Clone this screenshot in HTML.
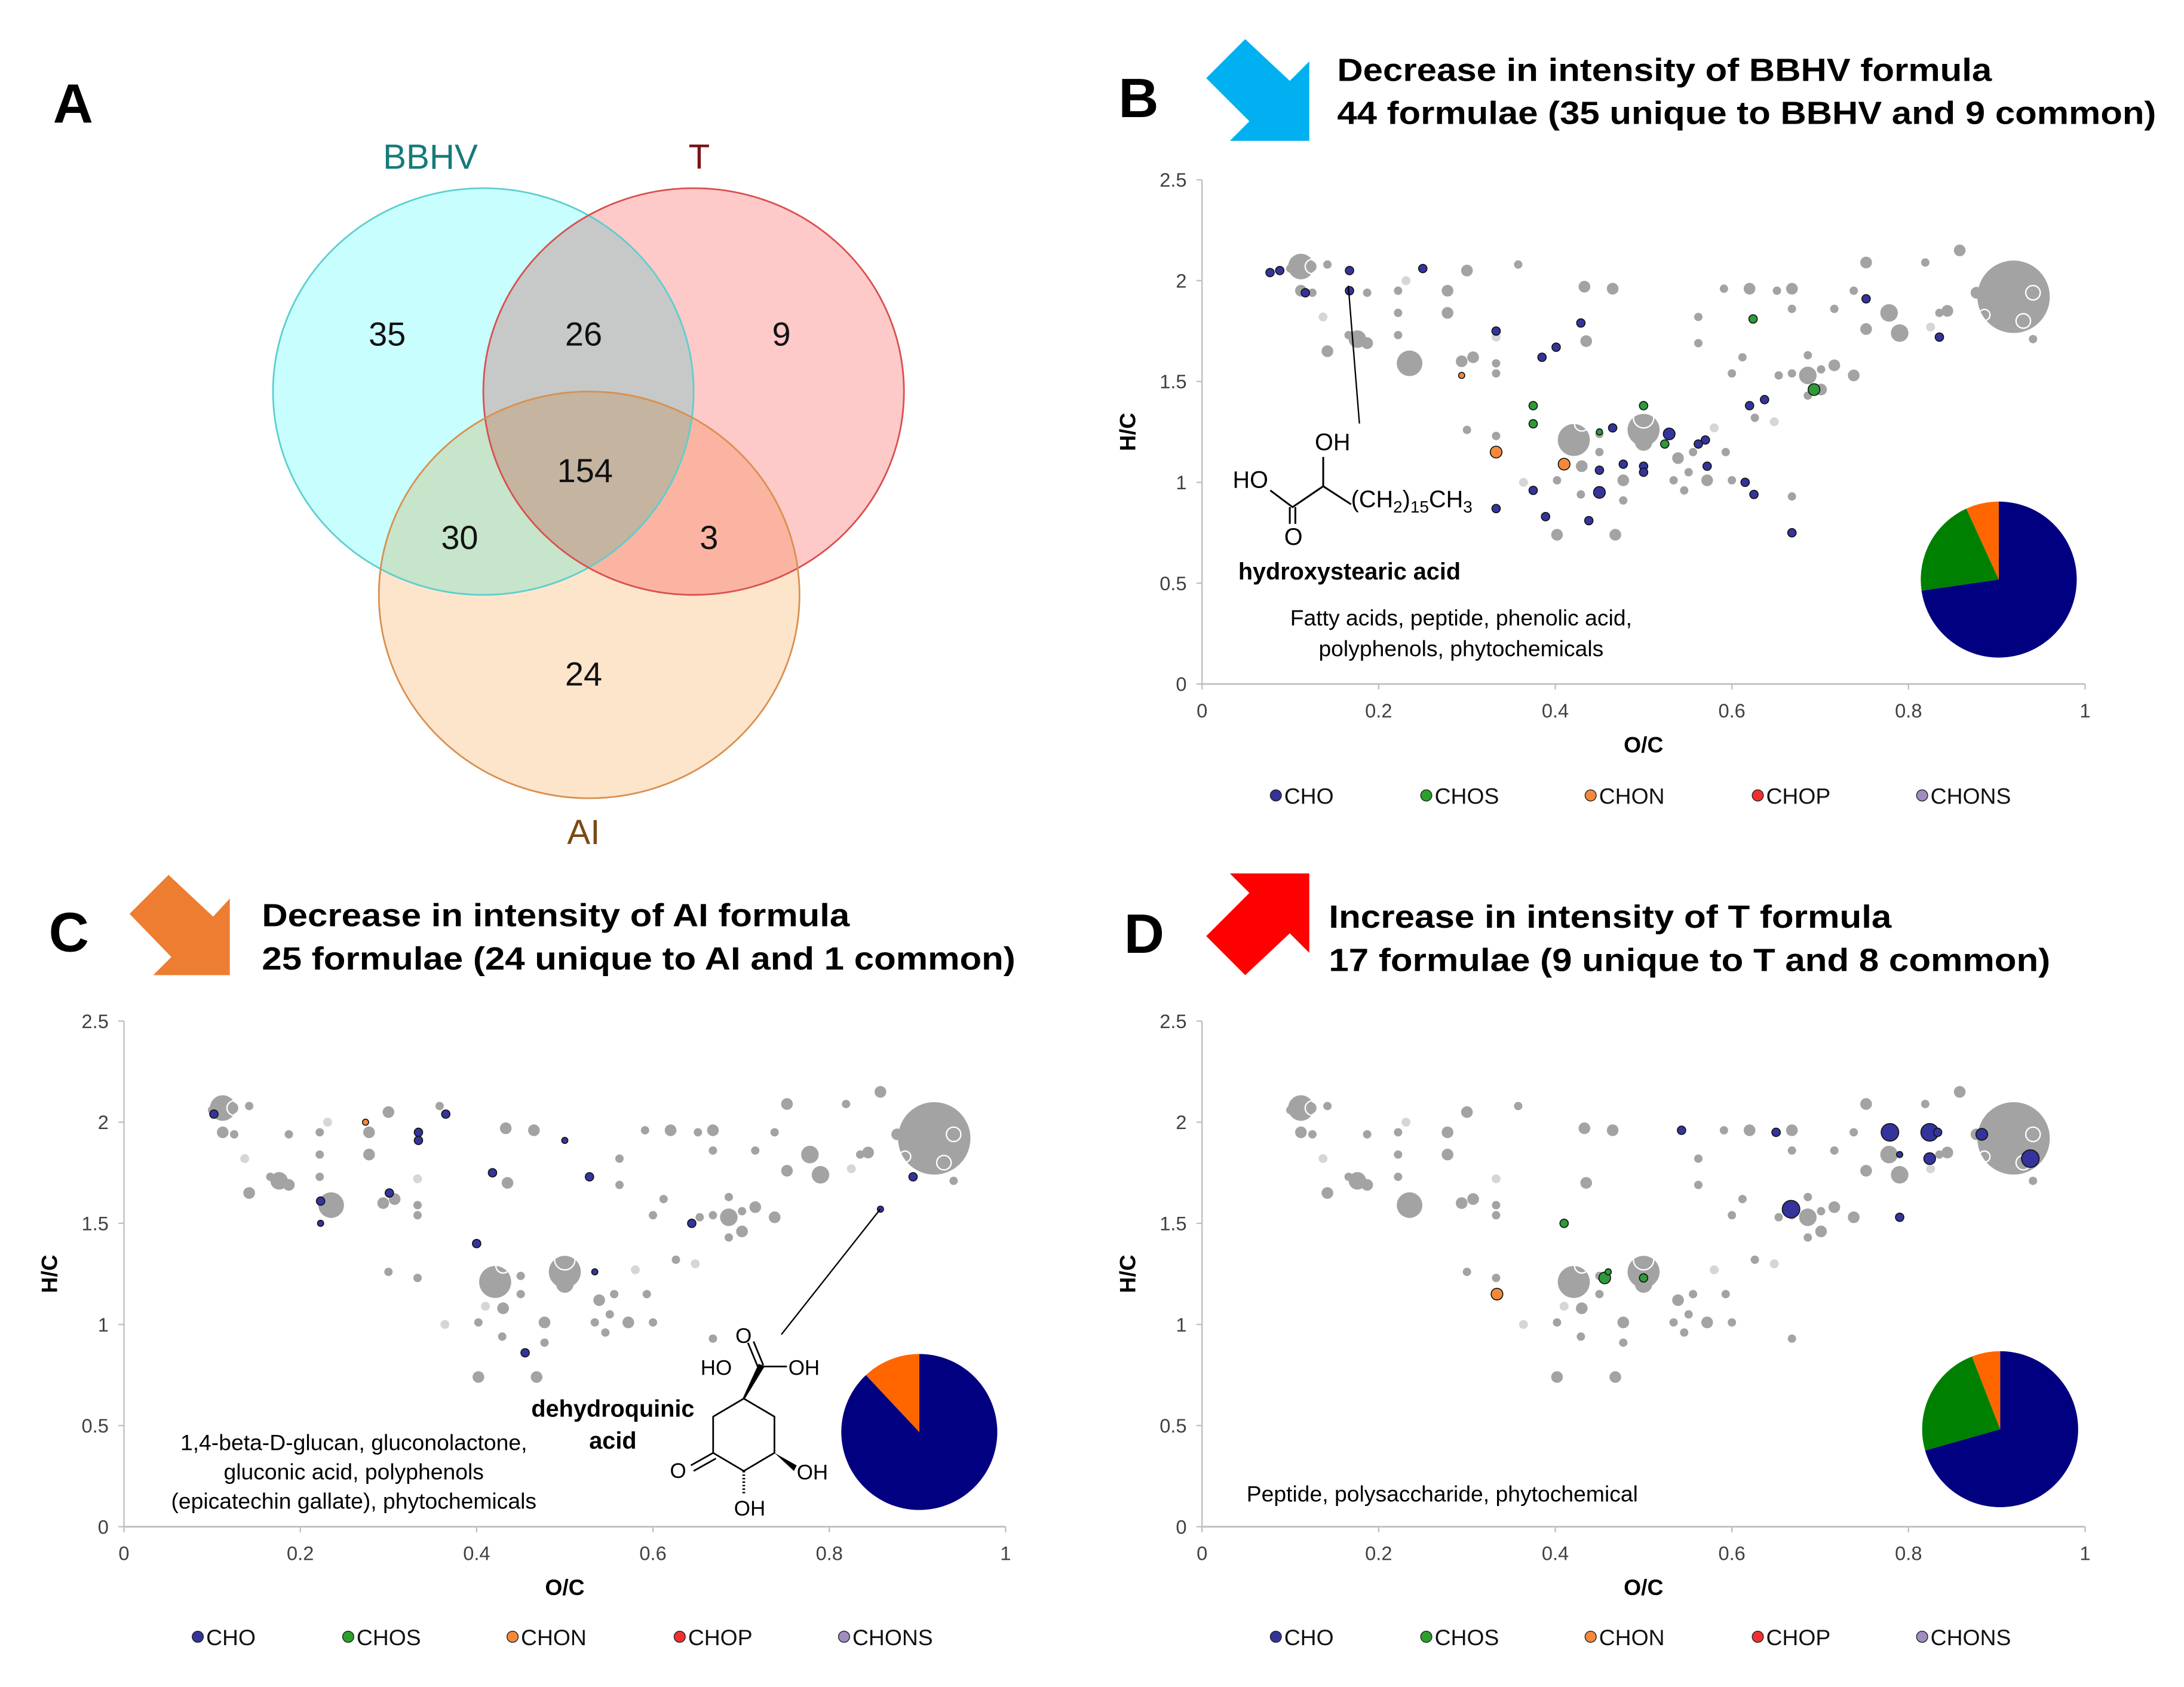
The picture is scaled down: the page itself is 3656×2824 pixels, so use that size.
<!DOCTYPE html>
<html><head><meta charset="utf-8"><style>
html,body{margin:0;padding:0;background:#fff}
svg{display:block}
text{font-family:"Liberation Sans",Arial,sans-serif}
</style></head><body>
<svg id="fig" xmlns="http://www.w3.org/2000/svg" width="3656" height="2824" viewBox="0 0 1568 1211">
<rect width="1568" height="1211" fill="#fff"/>
<!-- Panel letters -->
<text x="38" y="88" font-size="40" font-weight="bold">A</text>
<text x="803" y="84" font-size="40" font-weight="bold">B</text>
<text x="35" y="683" font-size="40" font-weight="bold">C</text>
<text x="807" y="684" font-size="40" font-weight="bold">D</text>

<!-- Venn -->
<g>
<g style="isolation:isolate">
<ellipse cx="347" cy="281" rx="151" ry="146" fill="#c8fffe"/>
<ellipse cx="498" cy="281" rx="151" ry="146" fill="#fdc9c9" style="mix-blend-mode:multiply"/>
<ellipse cx="423" cy="427" rx="151" ry="146" fill="#fde5cc" style="mix-blend-mode:multiply"/>
</g>
<ellipse cx="347" cy="281" rx="151" ry="146" fill="none" stroke="#5ccfcf" stroke-width="1.2"/>
<ellipse cx="498" cy="281" rx="151" ry="146" fill="none" stroke="#d9504f" stroke-width="1.2"/>
<ellipse cx="423" cy="427" rx="151" ry="146" fill="none" stroke="#d9904f" stroke-width="1.2"/>
<text x="309" y="121" font-size="25" fill="#167a7a" text-anchor="middle">BBHV</text>
<text x="502" y="121" font-size="25" fill="#7a1414" text-anchor="middle">T</text>
<text x="419" y="606" font-size="25" fill="#7a4a14" text-anchor="middle">AI</text>
<g font-size="24" text-anchor="middle" fill="#111">
<text x="278" y="248">35</text>
<text x="419" y="248">26</text>
<text x="561" y="248">9</text>
<text x="420" y="346">154</text>
<text x="330" y="394">30</text>
<text x="509" y="394">3</text>
<text x="419" y="492">24</text>
</g>
</g>

<!-- Arrows -->
<polygon fill="#00b0f0" points="894,28 926,58 940,44 940,101 883,101 897,87 866,56"/>
<polygon fill="#ed7d31" points="121,628 153,658 165,645 165,700 110,700 123,687 93,656"/>
<polygon fill="#ff0000" points="894,700 926,670 940,684 940,627 883,627 897,641 866,672"/>

<!-- Titles -->
<g font-weight="bold" font-size="23" fill="#000">
<text x="960" y="58" textLength="470" lengthAdjust="spacingAndGlyphs">Decrease in intensity of BBHV formula</text>
<text x="960" y="89" textLength="588" lengthAdjust="spacingAndGlyphs">44 formulae (35 unique to BBHV and 9 common)</text>
<text x="188" y="665" textLength="422" lengthAdjust="spacingAndGlyphs">Decrease in intensity of AI formula</text>
<text x="188" y="696" textLength="541" lengthAdjust="spacingAndGlyphs">25 formulae (24 unique to AI and 1 common)</text>
<text x="954" y="666" textLength="404" lengthAdjust="spacingAndGlyphs">Increase in intensity of T formula</text>
<text x="954" y="697" textLength="518" lengthAdjust="spacingAndGlyphs">17 formulae (9 unique to T and 8 common)</text>
</g>

<g id="plots"></g>

<!-- Annotations B -->
<g fill="#000">
<line x1="968" y1="205" x2="976" y2="304" stroke="#000" stroke-width="1"/>
<text x="944" y="323" font-size="17">OH</text>
<text x="885" y="350" font-size="17">HO</text>
<text x="970" y="364" font-size="17">(CH<tspan font-size="12" dy="4">2</tspan><tspan dy="-4">)</tspan><tspan font-size="12" dy="4">15</tspan><tspan dy="-4">CH</tspan><tspan font-size="12" dy="4">3</tspan></text>
<polyline points="912,352 928,364 950,349 970,362" fill="none" stroke="#000" stroke-width="1.3"/>
<line x1="950" y1="349" x2="950" y2="328" stroke="#000" stroke-width="1.3"/>
<line x1="926" y1="364" x2="926" y2="376" stroke="#000" stroke-width="1.3"/>
<line x1="930" y1="364" x2="930" y2="376" stroke="#000" stroke-width="1.3"/>
<text x="922" y="391" font-size="17">O</text>
<text x="889" y="416" font-size="17" font-weight="bold">hydroxystearic acid</text>
<text x="1049" y="449" font-size="16" text-anchor="middle">Fatty acids, peptide, phenolic acid,</text>
<text x="1049" y="471" font-size="16" text-anchor="middle">polyphenols, phytochemicals</text>
</g>

<!-- Annotations C -->
<g fill="#000">
<line x1="632" y1="868" x2="561" y2="958" stroke="#000" stroke-width="1"/>
<text x="254" y="1041" font-size="16" text-anchor="middle">1,4-beta-D-glucan, gluconolactone,</text>
<text x="254" y="1062" font-size="16" text-anchor="middle">gluconic acid, polyphenols</text>
<text x="254" y="1083" font-size="16" text-anchor="middle">(epicatechin gallate), phytochemicals</text>
<text x="440" y="1017" font-size="17" font-weight="bold" text-anchor="middle">dehydroquinic</text>
<text x="440" y="1040" font-size="17" font-weight="bold" text-anchor="middle">acid</text>
<polygon points="534,1004 556,1017 556,1043 534,1056 512,1043 512,1017" fill="none" stroke="#000" stroke-width="1.2"/>
<polygon points="534,1004 545,980 548,981" fill="#000" stroke="#000" stroke-width="1.5"/>
<line x1="544" y1="981" x2="537" y2="964" stroke="#000" stroke-width="1.2"/>
<line x1="548" y1="980" x2="541" y2="963" stroke="#000" stroke-width="1.2"/>
<line x1="546" y1="981" x2="565" y2="981" stroke="#000" stroke-width="1.2"/>
<text x="528" y="964" font-size="15">O</text>
<text x="566" y="987" font-size="15">OH</text>
<text x="503" y="987" font-size="15">HO</text>
<line x1="512" y1="1043" x2="496" y2="1052" stroke="#000" stroke-width="1.2"/>
<line x1="514" y1="1047" x2="498" y2="1056" stroke="#000" stroke-width="1.2"/>
<text x="481" y="1061" font-size="15">O</text>
<polygon points="556,1043 572,1052 570,1056" fill="#000"/>
<text x="572" y="1062" font-size="15">OH</text>
<line x1="534" y1="1056" x2="534" y2="1072" stroke="#000" stroke-width="2" stroke-dasharray="1,1.5"/>
<text x="527" y="1088" font-size="15">OH</text>
</g>

<text x="895" y="1078" font-size="16">Peptide, polysaccharide, phytochemical</text>
</svg>
<script>
// ---- shared background formula data (O/C, H/C, relative intensity) ----
const bgOC = [0.112,0.123,0.10,0.142,0.112,0.125,0.142,0.166,0.176,0.187,0.187,0.222,0.222,0.222,0.278,0.278,0.30,0.358,0.294,0.307,0.333,0.333,0.433,0.465,0.435,0.30,0.333,0.421,0.50,0.45,0.45,0.43,0.402,0.429,0.402,0.468,0.477,0.477,0.534,0.546,0.539,0.556,0.551,0.572,0.593,0.60,0.668,0.591,0.62,0.651,0.668,0.668,0.562,0.562,0.612,0.60,0.626,0.653,0.668,0.686,0.686,0.701,0.716,0.701,0.686,0.716,0.738,0.738,0.752,0.752,0.778,0.79,0.819,0.835,0.844,0.858,0.877,0.919,0.941,0.235,0.50];
const bgHC = [2.07,2.07,2.06,2.08,1.95,1.94,1.65,1.73,1.71,1.69,1.94,1.95,1.84,1.73,1.95,1.84,2.05,2.08,1.60,1.62,1.59,1.54,1.97,1.96,1.70,1.26,1.23,1.21,1.26,1.24,1.15,1.08,1.01,0.94,0.74,0.74,1.01,0.91,1.01,0.96,1.12,1.15,1.05,1.01,1.15,1.01,0.93,1.96,1.96,1.95,1.96,1.86,1.82,1.69,1.62,1.54,1.32,1.53,1.54,1.53,1.63,1.56,1.58,1.46,1.43,1.86,1.53,1.95,2.09,1.76,1.84,1.74,2.09,1.84,1.85,2.15,1.94,1.92,1.71,1.59,1.20];
const bgSize = [4,2,1,1,2,1,2,1,3,2,1,1,1,1,2,2,2,1,2,2,1,1,2,2,2,1,1,5,5,1,1,2,1,1,2,2,2,1,1,1,2,1,1,2,1,1,1,1,2,1,2,1,1,1,1,1,1,1,1,3,1,1,2,2,1,1,2,1,2,2,3,3,1,1,2,2,2,6,1,4,3];
const lightOC = [0.137,0.231,0.333,0.364,0.648,0.58,0.825,0.41];
const lightHC = [1.82,2.00,1.72,1.00,1.30,1.27,1.77,1.09];
const ringOC = [0.43,0.50,0.50,0.941,0.93,0.886,0.125,0.534];
const ringHC = [1.29,1.32,0.94,1.94,1.80,1.83,2.07,0.88];
const ringSize = [2,3,1,2,2,1,2,1];

// ---- panel B colored formulae ----
const bChoOC = [0.077,0.088,0.167,0.167,0.117,0.25,0.333,0.429,0.401,0.385,0.752,0.835,0.62,0.637,0.465,0.529,0.57,0.562,0.572,0.477,0.5,0.5,0.45,0.45,0.375,0.333,0.389,0.438,0.615,0.625,0.668];
const bChoHC = [2.04,2.05,2.05,1.95,1.94,2.06,1.75,1.79,1.67,1.62,1.91,1.72,1.38,1.41,1.27,1.24,1.21,1.19,1.08,1.09,1.08,1.05,1.06,0.95,0.96,0.87,0.83,0.81,1.00,0.94,0.75];
const bChoSize = [1,1,1,1,1,1,1,1,1,1,1,1,1,1,1,2,1,1,1,1,1,1,1,2,1,1,1,1,1,1,1];
const bChosOC = [0.624,0.693,0.375,0.375,0.45,0.5,0.524];
const bChosHC = [1.81,1.46,1.38,1.29,1.25,1.38,1.19];
const bChosSize = [1,2,1,1,0,1,1];
const bChonOC = [0.294,0.333,0.41];
const bChonHC = [1.53,1.15,1.09];
const bChonSize = [0,2,2];
const bPie = [32,9,3]; // CHO, CHOS, CHON

// ---- panel C ----
const cChoOC = [0.102,0.365,0.334,0.334,0.5,0.418,0.528,0.301,0.223,0.223,0.4,0.534,0.455,0.644,0.895,0.858];
const cChoHC = [2.04,2.04,1.95,1.91,1.91,1.75,1.73,1.65,1.61,1.50,1.40,1.26,0.86,1.50,1.73,1.57];
const cChoSize = [1,1,1,1,0,1,1,1,1,0,1,0,1,1,1,0];
const cChonOC = [0.274];
const cChonHC = [2.00];
const cChonSize = [0];
const cPie = [22,0,3];

// ---- panel D ----
const dChoOC = [0.543,0.65,0.779,0.824,0.833,0.883,0.79,0.824,0.938,0.667,0.79];
const dChoHC = [1.96,1.95,1.95,1.95,1.95,1.94,1.84,1.82,1.82,1.57,1.53];
const dChoSize = [1,1,3,3,1,2,0,2,3,3,1];
const dChosOC = [0.41,0.456,0.46,0.5];
const dChosHC = [1.50,1.23,1.26,1.23];
const dChosSize = [1,2,0,1];
const dChonOC = [0.334];
const dChonHC = [1.15];
const dChonSize = [2];
const dPie = [12,4,1];

const xTicks = ["0","0.2","0.4","0.6","0.8","1"];
const yTicks = ["0","0.5","1","1.5","2","2.5"];
const legendNames = ["CHO","CHOS","CHON","CHOP","CHONS"];

const NS = "http://www.w3.org/2000/svg";
const root = document.getElementById("plots");
const R = [2.2,3.0,4.2,6.3,9.2,11.5,26];
function mk(tag, attrs, parent){const e=document.createElementNS(NS,tag);for(const k in attrs)e.setAttribute(k,attrs[k]);(parent||root).appendChild(e);return e;}

function plot(id, x0, x1, yb, yt, legY, pieCx, pieCy, series, pieData){
  const g = mk("g",{});
  
  
  const sx = v => x0 + v*(x1-x0);
  const sy = v => yb - v/2.5*(yb-yt);
  // axes
  const ax = mk("line",{x1:x0,y1:yb,x2:x1,y2:yb,stroke:"#bfbfbf","stroke-width":1.2},g);
  
  
  const ay = mk("line",{x1:x0,y1:yb,x2:x0,y2:yt,stroke:"#bfbfbf","stroke-width":1},g);
  
  
  xTicks.forEach((t,i)=>{
    const v=i*0.2; mk("line",{x1:sx(v),y1:yb,x2:sx(v),y2:yb+4,stroke:"#bfbfbf"},g);
    const tx=mk("text",{x:sx(v),y:yb+24,"font-size":14,fill:"#404040","text-anchor":"middle"},g);tx.textContent=t;
    
    
  });
  yTicks.forEach((t,i)=>{
    const v=i*0.5; mk("line",{x1:x0-4,y1:sy(v),x2:x0,y2:sy(v),stroke:"#bfbfbf"},g);
    const tx=mk("text",{x:x0-11,y:sy(v)+5,"font-size":14,fill:"#404040","text-anchor":"end"},g);tx.textContent=t;
    
    
  });
  const xl=mk("text",{x:(x0+x1)/2,y:yb+49,"font-size":16,"font-weight":"bold","text-anchor":"middle"},g);xl.textContent="O/C";
  
  
  const yx=x0-48, yy=(yb+yt)/2;
  const yl=mk("text",{x:yx,y:yy,"font-size":16,"font-weight":"bold","text-anchor":"middle",transform:`rotate(-90 ${yx} ${yy})`},g);yl.textContent="H/C";
  
  
  // background
  bgOC.forEach((v,i)=>{
    const c=mk("circle",{cx:sx(v),cy:sy(bgHC[i]),r:R[bgSize[i]],fill:"#a3a3a3"},g);
    
    
  });
  lightOC.forEach((v,i)=>{
    const c=mk("circle",{cx:sx(v),cy:sy(lightHC[i]),r:3.2,fill:"#d6d6d6"},g);
    
    
  });
  ringOC.forEach((v,i)=>{
    const c=mk("circle",{cx:sx(v),cy:sy(ringHC[i]),r:R[ringSize[i]]+1,fill:"none",stroke:"#fff","stroke-width":1},g);
    
    
  });
  // colored series
  series.forEach(s=>{
    s.oc.forEach((v,i)=>{
      const c=mk("circle",{cx:sx(v),cy:sy(s.hc[i]),r:R[s.sz[i]],fill:s.col,stroke:"#111","stroke-width":0.7},g);
      
      
    });
  });
  // pie
  const cols=["#000080","#008000","#ff6600"];
  const tot=pieData.reduce((a,b)=>a+b,0); let a0=0; const r=56;
  pieData.forEach((v,i)=>{
    if(!v) return;
    const a1=a0+v/tot*2*Math.PI;
    const p=(a)=>[pieCx+r*Math.sin(a), pieCy-r*Math.cos(a)];
    const [xa,ya]=p(a0),[xb,yb2]=p(a1);
    const large=(a1-a0)>Math.PI?1:0;
    const sl=mk("path",{d:`M${pieCx},${pieCy} L${xa},${ya} A${r},${r} 0 ${large} 1 ${xb},${yb2} Z`,fill:cols[i]},g);
    
    
    a0=a1;
  });
  // legend
  const lcols=["#333399","#2ca02c","#f5883a","#f03030","#a08cc0"];
  const lx=[x0+53,x0+161,x0+279,x0+399,x0+517];
  legendNames.forEach((n,i)=>{
    const m=mk("circle",{cx:lx[i],cy:legY-5,r:4,fill:lcols[i],stroke:"#222","stroke-width":0.6},g);
    
    
    const t=mk("text",{x:lx[i]+6,y:legY+1,"font-size":16,fill:"#111"},g);t.textContent=n;
    
    
  });
}
const NAVY="#34349c",GREEN="#2e9a3a",ORANGE="#f5883a";
plot("b",863,1497,491,129,576,1435,416,[
  {name:"cho",oc:bChoOC,hc:bChoHC,sz:bChoSize,col:NAVY},
  {name:"chos",oc:bChosOC,hc:bChosHC,sz:bChosSize,col:GREEN},
  {name:"chon",oc:bChonOC,hc:bChonHC,sz:bChonSize,col:ORANGE}],bPie);
plot("c",89,722,1096,733,1180,660,1028,[
  {name:"cho",oc:cChoOC,hc:cChoHC,sz:cChoSize,col:NAVY},
  {name:"chon",oc:cChonOC,hc:cChonHC,sz:cChonSize,col:ORANGE}],cPie);
plot("d",863,1497,1096,733,1180,1436,1026,[
  {name:"cho",oc:dChoOC,hc:dChoHC,sz:dChoSize,col:NAVY},
  {name:"chos",oc:dChosOC,hc:dChosHC,sz:dChosSize,col:GREEN},
  {name:"chon",oc:dChonOC,hc:dChonHC,sz:dChonSize,col:ORANGE}],dPie);
</script>
</body></html>
